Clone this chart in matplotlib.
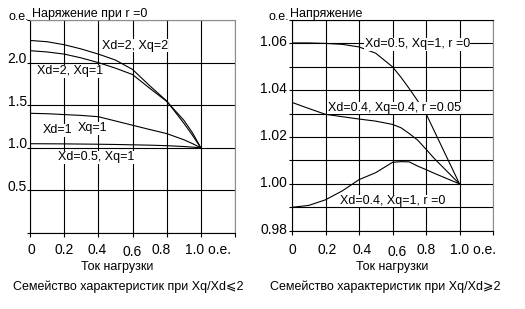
import numpy as np
import matplotlib
matplotlib.use("Agg")
import matplotlib.pyplot as plt

plt.rcParams['font.family'] = ['Liberation Sans', 'DejaVu Sans']
plt.rcParams['font.size'] = 9

# left chart: r = 0, Xq/Xd <= 2
x_left = [0, 0.1, 0.2, 0.3, 0.4, 0.5, 0.6, 0.7, 0.8, 0.9, 0.95, 1.0]
u_xd2_xq2 = [2.26, 2.245, 2.21, 2.16, 2.10, 2.03, 1.92, 1.73, 1.55, 1.29, 1.15, 1.0]
u_xd2_xq1 = [2.14, 2.125, 2.10, 2.055, 2.0, 1.935, 1.86, 1.70, 1.545, 1.325, 1.18, 1.0]
u_xd1_xq1 = [1.405, 1.40, 1.39, 1.38, 1.365, 1.315, 1.265, 1.215, 1.167, 1.095, 1.05, 1.0]
u_xd05_xq1 = [1.048, 1.047, 1.046, 1.044, 1.042, 1.039, 1.035, 1.031, 1.025, 1.015, 1.008, 1.0]

# right chart: Xq/Xd >= 2
x_right = [0, 0.1, 0.2, 0.3, 0.4, 0.5, 0.6, 0.65, 0.7, 0.75, 0.8, 0.85, 0.9, 1.0]
u_a = [1.0602, 1.0602, 1.0600, 1.0596, 1.0585, 1.0558, 1.0500, 1.0456, 1.0407,
       1.0355, 1.0300, 1.0225, 1.0150, 1.0]
u_b = [1.0348, 1.0322, 1.0297, 1.0287, 1.0277, 1.0268, 1.0254, 1.0240, 1.0215,
       1.0187, 1.0148, 1.0108, 1.0072, 1.0]
u_c = [0.9900, 0.9908, 0.9932, 0.9970, 1.0018, 1.0048, 1.0092, 1.0095, 1.0094,
       1.0076, 1.0061, 1.0045, 1.0030, 1.0]

xticks = [0, 0.2, 0.4, 0.6, 0.8, 1.0]
xtick_labels = ["0", "0.2", "0.4", "0.6", "0.8", "1.0 о.е."]
left_ylabels = ["0.5", "1.0", "1.5", "2.0"]
right_ylabels = ["0.98", "1.00", "1.02", "1.04", "1.06"]

PX = 0.72  # points per pixel at 100 dpi

fig = plt.figure(figsize=(5.25, 3.09), dpi=100)
ax1 = fig.add_axes([30/525, 1-233/309, 205/525, 213/309])
ax2 = fig.add_axes([292/525, 1-230.7/309, 201/525, 210.7/309])

box = dict(facecolor='white', edgecolor='none', pad=0.3)


def frame(ax, ylo, yhi, ystep):
    ax.set_xlim(0, 1.2)
    ax.set_ylim(ylo, yhi)
    ax.set_xticks(np.arange(0, 1.21, 0.2))
    ax.set_yticks(np.arange(ylo, yhi + ystep/2, ystep))
    ax.grid(True, color='black', lw=0.8)
    ax.set_axisbelow(True)
    ax.tick_params(labelbottom=False, labelleft=False, length=3, width=0.8,
                   direction='out', color='black')
    ax.tick_params(axis='y', length=2)
    for s in ax.spines.values():
        s.set_linewidth(0.8)
        s.set_color('black')
    ax.spines['top'].set_color('0.55')
    ax.spines['right'].set_color('0.55')


def xlabels(ax, shifts, drop):
    for i, (x, lab) in enumerate(zip(xticks, xtick_labels)):
        dx = shifts[i]
        ha = 'left' if i == len(xticks) - 1 else 'center'
        dy = drop + (2.5 if x == 0.6 else 0)
        ax.annotate(lab, xy=(x, 0), xycoords=ax.get_xaxis_transform(),
                    xytext=(dx*PX, -dy*PX), textcoords='offset points',
                    ha=ha, va='center', fontsize=10)


# ---- left chart
frame(ax1, 0, 2.5, 0.5)
for yv in [u_xd2_xq2, u_xd2_xq1, u_xd1_xq1, u_xd05_xq1]:
    ax1.plot(x_left, yv, color='black', lw=0.8, zorder=3)
xlabels(ax1, [1, 0, -1, 0, -6, -16], 17)
for lab in left_ylabels:
    ax1.annotate(lab, xy=(0, float(lab)), xycoords=ax1.get_yaxis_transform(),
                 xytext=(-3*PX, 3.5*PX), textcoords='offset points',
                 ha='right', va='center', fontsize=10)
ax1.annotate("о.е.", xy=(0, 1), xycoords='axes fraction', xytext=(-1*PX, 0),
             textcoords='offset points', ha='right', va='baseline')
ax1.annotate("Наряжение при r =0", xy=(0, 1), xycoords='axes fraction',
             xytext=(2*PX, 3*PX), textcoords='offset points', ha='left', va='baseline')

ax1.text(0.421, 2.198, "Xd=2, Xq=2", ha='left', va='center', bbox=box, zorder=4)
ax1.text(0.041, 1.896, "Xd=2, Xq=1", ha='left', va='center', bbox=box, zorder=4)
ax1.text(0.076, 1.206, "Xd=1", ha='left', va='center', bbox=box, zorder=4)
ax1.text(0.281, 1.229, "Xq=1", ha='left', va='center', bbox=box, zorder=4)
ax1.text(0.164, 0.888, "Xd=0.5, Xq=1", ha='left', va='center', bbox=box, zorder=4)

# ---- right chart
frame(ax2, 0.98, 1.07, 0.01)
ax2.spines['top'].set_color('black')
for yv in [u_a, u_b, u_c]:
    ax2.plot(x_right, yv, color='black', lw=0.8, zorder=3)
xlabels(ax2, [0.5, 2, 3, 5, 0, -10], 19.3)
for lab in right_ylabels:
    ax2.annotate(lab, xy=(0, float(lab)), xycoords=ax2.get_yaxis_transform(),
                 xytext=(-5*PX, 1*PX), textcoords='offset points',
                 ha='right', va='center', fontsize=10)
ax2.annotate("о.е.", xy=(0, 1), xycoords='axes fraction', xytext=(-3*PX, 0),
             textcoords='offset points', ha='right', va='baseline')
ax2.annotate("Напряжение", xy=(0, 1), xycoords='axes fraction',
             xytext=(-2*PX, 3*PX), textcoords='offset points', ha='left', va='baseline')

ax2.text(0.435, 1.0596, "Xd=0.5, Xq=1, r =0", ha='left', va='center', bbox=box, zorder=4)
ax2.text(0.214, 1.0324, "Xd=0.4, Xq=0.4, r =0.05", ha='left', va='center', bbox=box, zorder=4)
ax2.text(0.286, 0.9927, "Xd=0.4, Xq=1, r =0", ha='left', va='center', bbox=box, zorder=4)

# ---- captions
fig.text(117/525, 1-267/309, "Ток нагрузки", ha='center', va='center')
fig.text(392.5/525, 1-267/309, "Ток нагрузки", ha='center', va='center')
fig.text(128.5/525, 1-287/309, "Семейство характеристик при Xq/Xd⩽2", ha='center', va='center')
fig.text(385/525, 1-287/309, "Семейство характеристик при Xq/Xd⩾2", ha='center', va='center')

fig.savefig("out.png", dpi=100, facecolor='white')
